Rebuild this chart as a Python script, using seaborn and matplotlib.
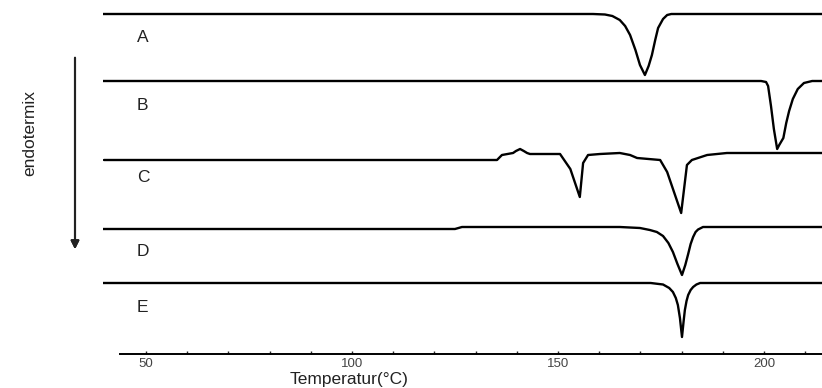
import numpy as np
import pandas as pd
import seaborn as sns
import matplotlib.pyplot as plt

# DSC-Kurven: Temperatur (°C) und Signal relativ zur Basislinie
samples = ["A", "B", "C", "D", "E"]
offsets = [340, 273, 200, 127, 71]

temp_a = [39.6, 158.5, 161.4, 163.2, 165.0, 166.3, 167.5, 168.8, 169.9, 171.1, 172.0,
          172.8, 173.6, 174.3, 175.5, 176.5, 177.5, 214.3]
sig_a = [0, 0, -0.5, -2, -6, -12, -21, -36, -51, -61, -52, -41, -26, -14, -5, -1, 0, 0]

temp_b = [39.6, 199.3, 200.5, 201.0, 201.7, 202.4, 203.2, 203.7, 204.7, 205.4, 206.1,
          207.0, 208.2, 209.7, 211.7, 214.3]
sig_b = [0, 0, -1, -5, -25, -48, -68, -64, -57, -42, -30, -18, -8, -2, 0, 0]

temp_c = [39.8, 135.2, 136.4, 139.1, 139.8, 140.8, 141.7, 142.5, 143.2, 150.5, 153.0,
          155.3, 156.1, 157.3, 160.2, 165.0, 167.5, 169.2, 174.8, 176.5, 179.9, 181.3,
          182.5, 186.2, 191.0, 214.3]
sig_c = [-6, -6, -1, 1, 3, 5, 3, 1, 0, 0, -15, -43, -9, -1, 0, 1, -1, -4, -6, -18, -59,
         -11, -6, -1, 1, 1]

temp_d = [39.6, 125.0, 126.7, 165.0, 169.9, 172.3, 174.0, 175.5, 176.8, 177.9, 179.0,
          180.1, 180.9, 181.6, 182.2, 182.8, 183.4, 184.0, 185.2, 214.3]
sig_d = [-2, -2, 0, 0, -1, -3, -5, -9, -16, -25, -37, -48, -38, -27, -17, -10, -5,
         -2.5, 0, 0]

temp_e = [39.6, 172.5, 175.5, 177.0, 177.9, 178.6, 179.1, 179.6, 180.1, 180.5, 180.8,
          181.2, 181.6, 182.2, 182.8, 183.6, 184.5, 214.3]
sig_e = [0, 0, -1.5, -5, -9, -15, -22, -35, -54, -38, -27, -18, -12, -7, -4, -1.5, 0, 0]

temps = [temp_a, temp_b, temp_c, temp_d, temp_e]
signals = [sig_a, sig_b, sig_c, sig_d, sig_e]

xticks = [50, 100, 150, 200]

frames = []
for name, off, t, s in zip(samples, offsets, temps, signals):
    frames.append(pd.DataFrame({"sample": name, "temp": t,
                                "y": off + np.array(s, dtype=float)}))
df = pd.concat(frames, ignore_index=True)

sns.set_style("white")
plt.rcParams["font.family"] = ["Liberation Sans", "DejaVu Sans"]

fig = plt.figure(figsize=(8.22, 3.88), dpi=100)
ax = fig.add_axes([102.7 / 822, 34 / 388, 720.2 / 822, 354 / 388])

for name in samples:
    sub = df[df["sample"] == name]
    sns.lineplot(data=sub, x="temp", y="y", color="black", lw=1.7, ax=ax,
                 sort=False, estimator=None)

ax.set_xlim(39.5, 214.3)
ax.set_ylim(0, 354)

for name, off in zip(samples, offsets):
    ax.text(47.8, off - 24, name, fontsize=12.5, ha="left", va="center", color="#222222")

for sp in ["top", "left", "right"]:
    ax.spines[sp].set_visible(False)
ax.spines["bottom"].set_bounds(43.7, 214.3)
ax.spines["bottom"].set_linewidth(1.4)
ax.spines["bottom"].set_color("black")

ax.set_xticks(xticks)
ax.set_xticks(np.arange(60, 215, 10), minor=True)
ax.set_yticks([])
ax.tick_params(axis="x", which="both", direction="in", length=2, width=1,
               pad=3, labelsize=9.5, labelcolor="#444444", bottom=True)
ax.set_ylabel("")
ax.set_xlabel("Temperatur(°C)", fontsize=12.5, color="#222222")
ax.xaxis.set_label_coords(0.342, -0.05)

fig.text(30 / 822, 1 - 133 / 388, "endotermix", rotation=90, fontsize=12.5,
         ha="center", va="center", color="#222222")
fig.add_artist(plt.annotate("", xy=(75 / 822, 1 - 252 / 388), xytext=(75 / 822, 1 - 55 / 388),
                            xycoords="figure fraction", textcoords="figure fraction",
                            arrowprops=dict(arrowstyle="-|>", color="#222222", lw=1.5,
                                            mutation_scale=12)))

fig.savefig("out.png", dpi=100)
